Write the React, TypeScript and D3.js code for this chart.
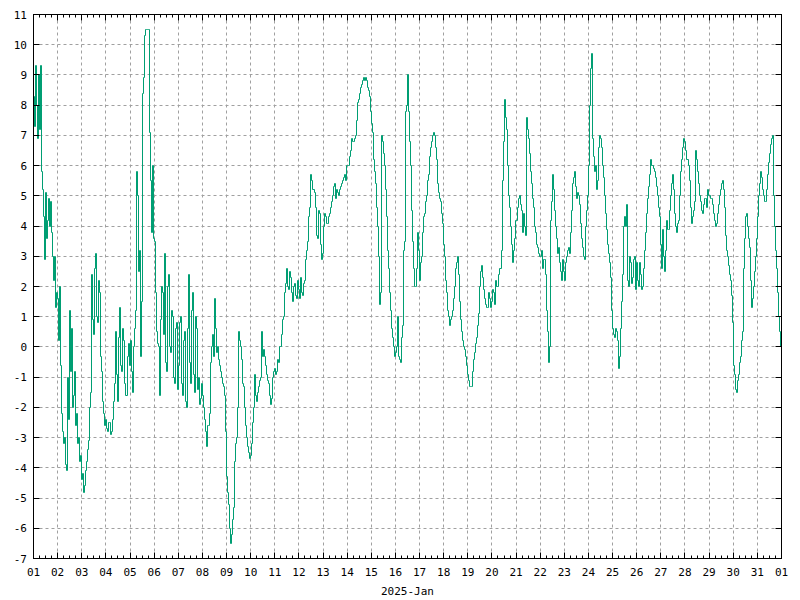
import React, { useEffect, useRef } from 'react';
import * as d3 from 'd3';

// Hourly readings, Jan 2025 (24 per day), last value = Feb 01 00:00
const STEP_HOURS = 1;
const START = Date.UTC(2025, 0, 1);
const END = Date.UTC(2025, 1, 1);

const temps: number[] = [
  8.3, 7.3, 9.3, 8.0, 6.9, 9.0, 7.2, 9.3, 5.8, 5.2, 4.3, 2.9, 5.1, 3.6, 4.2, 4.9, 4.0, 4.8, 3.8, 3.0, 2.2, 3.0, 1.3, 1.8, // 01
  1.6, 0.2, 2.0, -0.6, -2.2, -2.8, -3.2, -3.0, -3.9, -4.1, -1.0, -2.4, 1.2, -0.8, 0.6, -2.0, -1.6, -0.8, -2.6, -2.2, -3.2, -3.0, -3.8, -3.6, // 02
  -4.4, -4.2, -4.8, -4.6, -4.1, -3.8, -3.4, -3.1, -2.0, -1.5, 2.4, 0.9, 0.4, 2.6, 3.1, 1.0, 0.8, 2.2, 1.8, -0.3, -0.8, -1.8, -2.2, -2.6, // 03
  -2.4, -2.7, -2.8, -2.5, -2.5, -2.9, -2.8, -2.4, -1.8, -1.2, 0.5, -0.9, -1.8, 0.3, 1.3, -0.6, -0.8, 0.6, 0.2, -1.2, -1.6, -0.3, 0.1, -0.6, // 04
  0.2, -0.8, -1.5, 0.0, 0.6, 1.2, 5.8, 5.0, 2.5, 3.2, -0.3, 1.5, 8.4, 8.9, 10.3, 10.5, 10.5, 10.5, 10.5, 7.1, 5.5, 3.8, 6.0, 3.6, // 05
  3.5, 1.8, 0.5, 0.1, 0.0, -1.6, 0.9, 2.0, 1.8, 0.4, 3.1, -0.5, -0.8, 2.0, 2.4, 0.0, -0.2, 1.2, 1.0, -1.0, -1.2, 0.6, 0.8, -1.4, // 06
  -0.6, 0.8, 1.0, -1.2, -1.6, 0.2, 0.5, -1.8, -2.0, 0.6, 2.4, -0.5, -1.2, 1.2, 1.8, -0.9, -1.5, 1.0, 0.6, -1.4, -1.0, -1.9, -1.7, -1.2, // 07
  -1.6, -2.0, -2.4, -2.8, -3.3, -2.6, -2.6, -2.2, -0.5, 0.0, 0.4, -0.3, 1.6, 0.6, -0.2, 0.0, -0.4, -0.6, -0.8, -1.0, -1.2, -1.3, -1.6, -2.8, // 08
  -4.3, -4.8, -5.2, -6.0, -6.5, -6.2, -5.7, -5.3, -3.8, -3.2, -3.0, -2.0, 0.5, 0.2, 0.0, -0.4, -1.2, -1.3, -2.0, -2.6, -3.0, -3.3, -3.5, -3.7, // 09
  -3.6, -3.2, -2.5, -2.0, -0.9, -1.6, -1.8, -1.5, -1.3, -1.1, -1.0, 0.5, -0.3, -0.1, -0.3, -0.6, -0.9, -1.1, -1.2, -1.6, -1.9, -1.7, -1.0, -0.8, // 10
  -0.7, -0.9, -0.8, -0.4, -0.5, 0.0, 0.0, 0.4, 0.9, 1.0, 1.8, 2.1, 2.6, 2.0, 1.9, 2.5, 2.3, 1.8, 1.5, 2.0, 2.1, 1.7, 1.6, 2.2, // 11
  1.9, 1.6, 2.3, 1.8, 1.7, 2.1, 2.2, 2.9, 3.2, 3.5, 4.3, 4.6, 5.7, 5.5, 5.2, 5.1, 4.6, 3.7, 3.6, 4.5, 4.4, 3.4, 2.9, 3.1, // 12
  4.0, 4.4, 4.3, 4.1, 4.1, 4.3, 4.4, 4.6, 4.8, 5.0, 5.3, 5.4, 4.9, 5.2, 5.1, 5.0, 5.2, 5.3, 5.4, 5.5, 5.6, 5.7, 5.5, 6.0, // 13
  6.0, 6.0, 6.3, 6.5, 6.9, 6.8, 6.8, 6.9, 7.0, 7.5, 8.1, 8.2, 8.4, 8.6, 8.7, 8.8, 8.9, 8.8, 8.9, 8.8, 8.6, 8.5, 8.3, 7.8, // 14
  7.4, 7.1, 6.2, 5.8, 5.4, 4.6, 4.0, 3.0, 1.4, 1.8, 7.0, 6.8, 6.4, 6.0, 5.2, 4.3, 3.2, 2.6, 1.8, 1.2, 0.6, 0.3, 0.0, -0.3, // 15
  -0.2, 0.0, 1.0, -0.3, -0.4, -0.5, 0.3, 0.7, 3.2, 3.5, 7.8, 8.0, 9.0, 7.8, 6.8, 6.0, 4.5, 3.5, 2.6, 2.0, 2.0, 2.6, 3.8, 3.2, // 16
  2.2, 2.8, 3.0, 3.8, 4.3, 4.4, 4.8, 5.0, 5.5, 5.7, 6.3, 6.6, 6.8, 7.0, 7.1, 7.0, 6.6, 6.2, 5.4, 5.1, 4.9, 4.8, 4.4, 4.1, // 17
  3.4, 3.0, 2.2, 1.8, 1.2, 1.0, 0.7, 0.9, 1.0, 1.2, 1.6, 2.0, 2.6, 2.8, 3.0, 2.4, 1.5, 0.9, 0.5, 0.2, 0.0, -0.1, -0.3, -0.6, // 18
  -0.9, -1.1, -1.3, -1.3, -1.3, -0.8, -0.4, -0.2, 0.1, 0.3, 0.7, 1.1, 2.0, 2.5, 2.7, 2.3, 1.9, 1.6, 1.4, 1.3, 1.3, 1.8, 1.6, 1.3, // 19
  1.5, 1.9, 1.8, 1.4, 2.2, 2.0, 2.0, 2.4, 2.6, 3.2, 5.5, 6.8, 8.2, 7.6, 7.2, 6.0, 5.0, 4.6, 4.0, 3.4, 2.8, 3.2, 3.6, 4.2, // 20
  4.2, 4.6, 4.9, 5.0, 4.7, 4.5, 3.8, 4.4, 4.0, 3.7, 7.6, 7.2, 6.9, 6.4, 5.8, 5.4, 4.9, 4.6, 4.0, 3.8, 3.4, 3.3, 3.1, 3.0, // 21
  3.0, 3.2, 2.6, 2.9, 2.9, 2.4, 1.2, 0.5, -0.5, 0.0, 4.2, 4.8, 5.7, 5.2, 4.5, 4.0, 3.6, 3.1, 3.3, 2.8, 2.5, 2.2, 2.9, 2.5, // 22
  2.2, 2.8, 3.0, 3.2, 3.3, 3.1, 3.8, 4.5, 5.4, 5.6, 5.8, 5.3, 4.9, 5.1, 5.0, 4.7, 4.1, 3.6, 3.3, 3.0, 2.9, 4.0, 4.5, 5.0, // 23
  6.0, 8.0, 9.2, 9.7, 6.9, 6.3, 5.8, 6.0, 5.2, 5.5, 6.6, 7.0, 6.9, 6.6, 6.0, 5.6, 5.0, 4.4, 3.9, 3.4, 3.1, 2.8, 2.3, 1.2, // 24
  0.6, 0.4, 0.3, 0.6, 0.5, 0.2, -0.7, -0.3, 0.6, 1.5, 2.4, 4.0, 4.3, 4.0, 4.7, 2.2, 2.0, 3.0, 2.8, 2.1, 2.3, 2.9, 3.0, 1.9, // 25
  2.8, 2.2, 2.0, 2.8, 2.4, 1.9, 2.0, 2.6, 3.2, 3.8, 4.4, 4.9, 5.3, 5.7, 6.2, 6.0, 6.0, 5.9, 5.8, 5.6, 5.3, 5.0, 4.6, 4.3, // 26
  3.4, 2.6, 3.9, 3.0, 2.5, 3.2, 4.2, 3.9, 3.9, 4.5, 5.0, 5.4, 5.7, 5.2, 4.4, 4.0, 3.8, 4.1, 4.2, 5.0, 5.8, 6.2, 6.6, 6.9, // 27
  6.8, 6.5, 6.2, 6.0, 5.5, 4.6, 4.1, 4.3, 4.5, 4.8, 6.5, 6.2, 5.8, 5.4, 5.0, 4.8, 4.5, 4.4, 4.7, 4.9, 4.9, 4.6, 5.2, 5.0, // 28
  5.0, 4.9, 4.9, 4.7, 4.4, 4.2, 4.0, 4.1, 4.4, 4.7, 5.0, 5.2, 5.4, 5.5, 5.2, 4.6, 3.7, 3.2, 3.0, 2.7, 2.4, 2.2, 1.7, 0.8, // 29
  -0.6, -0.9, -1.4, -1.5, -1.1, -0.9, -0.5, -0.3, 0.2, 0.5, 2.6, 3.6, 4.3, 4.4, 4.0, 3.6, 3.3, 2.2, 1.3, 1.6, 2.0, 2.5, 3.0, 3.6, // 30
  4.3, 5.0, 5.4, 5.8, 5.6, 5.2, 5.0, 4.8, 4.8, 5.2, 5.7, 6.1, 6.4, 6.7, 6.9, 7.0, 5.0, 4.0, 3.2, 2.6, 1.8, 1.0, 0.5, 0.0, // 31
  -0.2,
];

const yTickValues = [-7, -6, -5, -4, -3, -2, -1, 0, 1, 2, 3, 4, 5, 6, 7, 8, 9, 10, 11];
const xTitle = '2025-Jan';

interface Reading {
  t: Date;
  v: number;
}

const App: React.FC = () => {
  const svgRef = useRef<SVGSVGElement>(null);

  useEffect(() => {
    if (!svgRef.current) return;
    const svg = d3.select(svgRef.current);
    svg.selectAll('*').remove();

    const left = 33.5;
    const right = 781.5;
    const top = 14.5;
    const bottom = 558.5;
    const font = '"DejaVu Sans Mono", monospace';

    const x = d3
      .scaleUtc()
      .domain([new Date(START), new Date(END)])
      .range([left, right]);
    const y = d3.scaleLinear().domain([-7, 11]).range([bottom, top]);

    const px = (v: number) => Math.floor(v) + 0.5;

    const dayTicks = d3.utcDay.range(new Date(START), new Date(END + 1));
    const minorTicks = d3.utcHour
      .every(6)!
      .range(new Date(START), new Date(END))
      .filter(d => d.getUTCHours() !== 0);

    // grid
    const grid = svg.append('g').attr('stroke', '#a0a0a0').attr('stroke-dasharray', '3,3');
    grid
      .selectAll('line.gx')
      .data(dayTicks.slice(1, -1))
      .join('line')
      .attr('x1', d => px(x(d)))
      .attr('x2', d => px(x(d)))
      .attr('y1', top)
      .attr('y2', bottom);
    grid
      .selectAll('line.gy')
      .data(yTickValues.slice(1, -1))
      .join('line')
      .attr('x1', left)
      .attr('x2', right)
      .attr('y1', d => px(y(d)))
      .attr('y2', d => px(y(d)));

    // data line
    const data: Reading[] = temps.map((v, i) => ({
      t: new Date(START + i * STEP_HOURS * 3600 * 1000),
      v,
    }));
    const line = d3
      .line<Reading>()
      .x(d => px(x(d.t)))
      .y(d => px(y(d.v)))
      .curve(d3.curveStepAfter);
    svg
      .append('path')
      .datum(data)
      .attr('fill', 'none')
      .attr('stroke', '#009e73')
      .attr('stroke-width', 1)
      .attr('d', line);

    // ticks
    const ticks = svg.append('g').attr('stroke', '#000');
    const tickLen = 6;
    const minorLen = 3;
    dayTicks.forEach(d => {
      const xp = px(x(d));
      ticks.append('line').attr('x1', xp).attr('x2', xp).attr('y1', bottom).attr('y2', bottom - tickLen);
      ticks.append('line').attr('x1', xp).attr('x2', xp).attr('y1', top).attr('y2', top + tickLen);
    });
    minorTicks.forEach(d => {
      const xp = px(x(d));
      ticks.append('line').attr('x1', xp).attr('x2', xp).attr('y1', bottom).attr('y2', bottom - minorLen);
      ticks.append('line').attr('x1', xp).attr('x2', xp).attr('y1', top).attr('y2', top + minorLen);
    });
    yTickValues.forEach(v => {
      const yp = px(y(v));
      ticks.append('line').attr('x1', left).attr('x2', left + tickLen).attr('y1', yp).attr('y2', yp);
      ticks.append('line').attr('x1', right).attr('x2', right - tickLen).attr('y1', yp).attr('y2', yp);
    });

    // border
    svg
      .append('rect')
      .attr('x', left)
      .attr('y', top)
      .attr('width', right - left)
      .attr('height', bottom - top)
      .attr('fill', 'none')
      .attr('stroke', '#000');

    // labels
    const fmt = d3.utcFormat('%d');
    svg
      .append('g')
      .selectAll('text')
      .data(dayTicks)
      .join('text')
      .attr('x', d => x(d))
      .attr('y', 576)
      .attr('text-anchor', 'middle')
      .style('font-family', font)
      .style('font-size', '11px')
      .text(d => fmt(d));

    svg
      .append('g')
      .selectAll('text')
      .data(yTickValues)
      .join('text')
      .attr('x', 27)
      .attr('y', d => y(d) + 4)
      .attr('text-anchor', 'end')
      .style('font-family', font)
      .style('font-size', '11px')
      .text(d => String(d));

    svg
      .append('text')
      .attr('x', (left + right) / 2)
      .attr('y', 595)
      .attr('text-anchor', 'middle')
      .style('font-family', font)
      .style('font-size', '11px')
      .text(xTitle);
  }, []);

  return (
    <svg
      ref={svgRef}
      width={800}
      height={600}
      style={{ position: 'absolute', left: 0, top: 0, background: '#fff' }}
    />
  );
};

export default App;
